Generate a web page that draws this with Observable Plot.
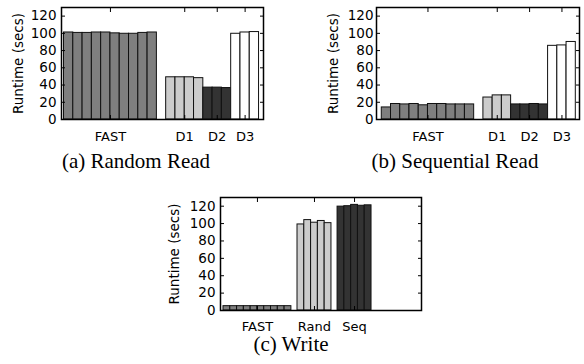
<!DOCTYPE html>
<html>
<head>
<meta charset="utf-8">
<script src="https://cdn.jsdelivr.net/npm/d3@7"></script>
<script src="https://cdn.jsdelivr.net/npm/@observablehq/plot@0.6"></script>
<style>
  html, body { margin: 0; padding: 0; background: #fff; }
  #root { position: relative; width: 584px; height: 364px; overflow: hidden; background: #fff; }
  .panel { position: absolute; overflow: visible; }
  .cap { position: absolute; font-family: "Liberation Serif", "Times New Roman", serif; font-size: 21px; line-height: 21px; white-space: nowrap; transform: translateX(-50%); color: #000; }
</style>
</head>
<body>
<div id="root"></div>
<script>
// ---------- data ----------
const yTicks = [0, 20, 40, 60, 80, 100, 120];
const yLabel = "Runtime (secs)";

// (a) Random Read
const rrNames = ["FAST", "D1", "D2", "D3"];
const rrFAST = [101, 100.5, 100.5, 101, 101, 100, 99.5, 99.5, 100.5, 101];
const rrD1 = [49, 49, 49, 48];
const rrD2 = [37, 37, 36.5];
const rrD3 = [99.5, 101, 101.5];

// (b) Sequential Read
const srNames = ["FAST", "D1", "D2", "D3"];
const srFAST = [14, 18, 17.5, 18, 16.5, 18, 18, 17.5, 17.5, 17.5];
const srD1 = [25.5, 28, 28];
const srD2 = [17.5, 17.5, 18, 17.5];
const srD3 = [85.5, 86, 90];

// (c) Write
const wrNames = ["FAST", "Rand", "Seq"];
const wrFAST = [5, 5, 5, 5, 5, 5, 5, 5, 5, 5];
const wrRand = [99, 104, 101, 103, 100.5];
const wrSeq = [119.5, 120, 121.5, 120.5, 121];

const captions = ["(a) Random Read", "(b) Sequential Read", "(c) Write"];

// ---------- styles ----------
const C_FAST = "#7f7f7f", C_LIGHT = "#cccccc", C_DARK = "#333333", C_WHITE = "#ffffff";

function panel(cfg) {
  let pos = 0;
  const bars = [], centers = [];
  cfg.groups.forEach((g, gi) => {
    pos += cfg.gaps[gi];
    const start = pos;
    g.values.forEach(v => { bars.push({x1: pos, x2: pos + 1, v, fill: g.fill}); pos += 1; });
    centers.push({name: g.name, x: (start + pos) / 2});
  });
  const domain = [-cfg.lead, pos + cfg.trail];
  const cx = centers.map(c => c.x);
  const none = () => "";
  return Plot.plot({
    width: cfg.width, height: cfg.height,
    marginLeft: cfg.mLeft, marginRight: cfg.mRight, marginTop: cfg.mTop, marginBottom: cfg.mBottom,
    style: {fontFamily: "DejaVu Sans", fontSize: "13px", background: "transparent", color: "#000", overflow: "visible"},
    x: {domain, axis: null, label: null},
    y: {domain: [0, 130], axis: null, label: null},
    color: {type: "identity"},
    marks: [
      Plot.rectY(bars, {x1: "x1", x2: "x2", y1: 0, y2: "v", fill: "fill", stroke: "#111", strokeWidth: 1}),
      Plot.axisY(yTicks, {anchor: "left", tickSize: 0, tickPadding: cfg.padY, label: null, fontSize: 13.5, letterSpacing: 0.9}),
      Plot.axisY(yTicks, {anchor: "left", tickSize: 4, dx: 4, tickFormat: none, label: null}),
      Plot.axisY(yTicks, {anchor: "right", tickSize: 4, dx: -4, tickFormat: none, label: null}),
      Plot.axisX(cx, {anchor: "top", tickSize: 4, dy: 4, tickFormat: none, label: null}),
      Plot.axisX(cx, {anchor: "bottom", tickSize: 4, dy: -4, tickFormat: none, label: null}),
      Plot.text(centers, {x: "x", text: "name", frameAnchor: "bottom", dy: cfg.labelDy, fontSize: 13, letterSpacing: 0.4}),
      Plot.text([yLabel], {frameAnchor: "left", textAnchor: "middle", rotate: -90, dx: cfg.labelDx, fontSize: 13.5}),
      Plot.frame({stroke: "#000", strokeWidth: 1.5})
    ]
  });
}

const root = document.getElementById("root");
function place(node, left, top) {
  node.classList.add("panel");
  node.style.left = left + "px";
  node.style.top = top + "px";
  root.appendChild(node);
}
function caption(text, cx, top) {
  const d = document.createElement("div");
  d.className = "cap";
  d.textContent = text;
  d.style.left = cx + "px";
  d.style.top = top + "px";
  root.appendChild(d);
}

const pA = panel({
  groups: [
    {name: rrNames[0], values: rrFAST, fill: C_FAST},
    {name: rrNames[1], values: rrD1, fill: C_LIGHT},
    {name: rrNames[2], values: rrD2, fill: C_DARK},
    {name: rrNames[3], values: rrD3, fill: C_WHITE}
  ],
  gaps: [0, 1, 0, 0], lead: 0.27, trail: 0.48,
  width: 292, height: 152, mLeft: 61, mRight: 29, mTop: 7, mBottom: 33,
  padY: 5, labelDx: -43, labelDy: 21
});
place(pA, 0, 0);

const pB = panel({
  groups: [
    {name: srNames[0], values: srFAST, fill: C_FAST},
    {name: srNames[1], values: srD1, fill: C_LIGHT},
    {name: srNames[2], values: srD2, fill: C_DARK},
    {name: srNames[3], values: srD3, fill: C_WHITE}
  ],
  gaps: [0, 1, 0, 0], lead: 0.57, trail: 0.4,
  width: 292, height: 152, mLeft: 84, mRight: 5, mTop: 7, mBottom: 33,
  padY: 3, labelDx: -43, labelDy: 21
});
place(pB, 292, 0);

const pC = panel({
  groups: [
    {name: wrNames[0], values: wrFAST, fill: C_FAST},
    {name: wrNames[1], values: wrRand, fill: C_LIGHT},
    {name: wrNames[2], values: wrSeq, fill: C_DARK}
  ],
  gaps: [0, 0.9, 0.9], lead: 0.44, trail: 7.36,
  width: 300, height: 150, mLeft: 70, mRight: 29, mTop: 7, mBottom: 30,
  padY: 5, labelDx: -46, labelDy: 20
});
place(pC, 150, 190);

caption(captions[0], 136, 151);
caption(captions[1], 455, 151);
caption(captions[2], 291, 334);
</script>
</body>
</html>
